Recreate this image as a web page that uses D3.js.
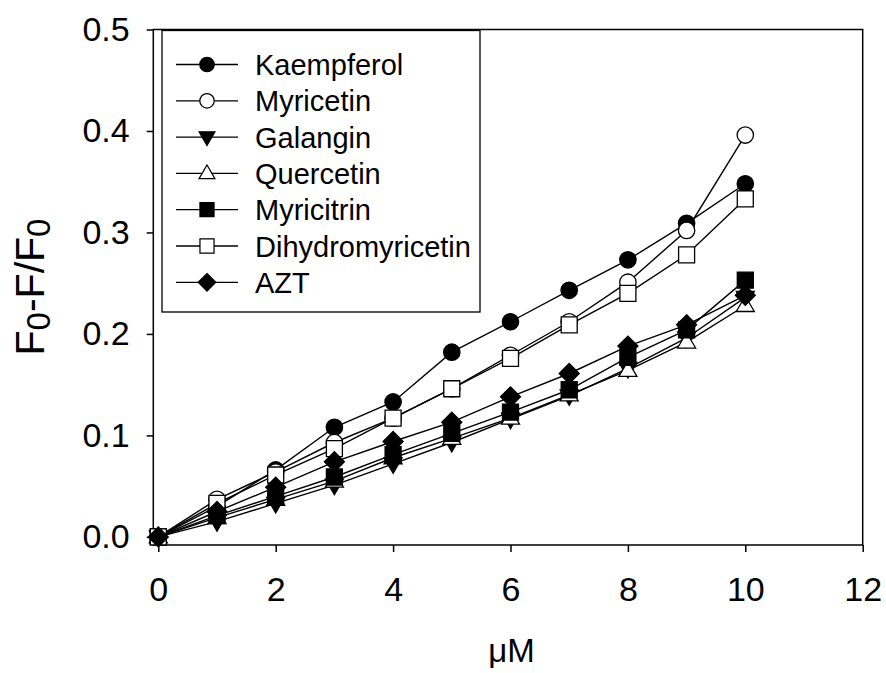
<!DOCTYPE html>
<html>
<head>
<meta charset="utf-8">
<script src="https://cdn.jsdelivr.net/npm/d3@7"></script>
<style>
  html, body { margin: 0; padding: 0; background: #fff; }
  svg { display: block; }
  text { font-family: "Liberation Sans", Arial, sans-serif; fill: #000; }
</style>
</head>
<body>
<svg id="chart" width="886" height="673"></svg>
<script>
// Concentration (µM)
const concentrations = [0, 1, 2, 3, 4, 5, 6, 7, 8, 9, 10];

// Fluorescence quenching (F0-F)/F0 for each compound
const kaempferol       = [0, 0.030, 0.066, 0.108, 0.133, 0.182, 0.212, 0.243, 0.273, 0.309, 0.348];
const myricetin        = [0, 0.037, 0.064, 0.093, 0.117, 0.146, 0.179, 0.212, 0.251, 0.302, 0.396];
const galangin         = [0, 0.015, 0.033, 0.051, 0.072, 0.093, 0.116, 0.139, 0.166, 0.196, 0.236];
const quercetin        = [0, 0.019, 0.037, 0.055, 0.078, 0.097, 0.117, 0.140, 0.164, 0.192, 0.228];
const myricitrin       = [0, 0.021, 0.040, 0.059, 0.081, 0.102, 0.123, 0.145, 0.177, 0.204, 0.253];
const dihydromyricetin = [0, 0.033, 0.061, 0.087, 0.117, 0.146, 0.176, 0.209, 0.240, 0.278, 0.333];
const azt              = [0, 0.025, 0.049, 0.074, 0.094, 0.113, 0.138, 0.161, 0.188, 0.209, 0.238];

const seriesNames = ["Kaempferol", "Myricetin", "Galangin", "Quercetin", "Myricitrin", "Dihydromyricetin", "AZT"];
const seriesValues = [kaempferol, myricetin, galangin, quercetin, myricitrin, dihydromyricetin, azt];

// Axis ticks
const xTicks = [0, 2, 4, 6, 8, 10, 12];
const yTicks = [0.0, 0.1, 0.2, 0.3, 0.4, 0.5];

// Marker shapes
const shapes = {
  circle:   { draw(p) { const r = 8.2; p.moveTo(r, 0); p.arc(0, 0, r, 0, 2 * Math.PI); } },
  square:   { draw(p) { const h = 8; p.rect(-h, -h, 2 * h, 2 * h); } },
  triUp:    { draw(p) { p.moveTo(0, -9.5); p.lineTo(9, 6); p.lineTo(-9, 6); p.closePath(); } },
  triDown:  { draw(p) { p.moveTo(0, 9.5); p.lineTo(9, -6); p.lineTo(-9, -6); p.closePath(); } },
  diamond:  { draw(p) { const h = 10; p.moveTo(0, -h); p.lineTo(h, 0); p.lineTo(0, h); p.lineTo(-h, 0); p.closePath(); } }
};
const markerStyle = [
  { shape: "circle",  fill: "#000" },
  { shape: "circle",  fill: "#fff" },
  { shape: "triDown", fill: "#000" },
  { shape: "triUp",   fill: "#fff" },
  { shape: "square",  fill: "#000" },
  { shape: "square",  fill: "#fff" },
  { shape: "diamond", fill: "#000" }
];

const svg = d3.select("#chart");
const plotLeft = 153.3, plotRight = 862.7, plotTop = 29.5, plotBottom = 545;

const x = d3.scaleLinear().domain([-0.085, 12]).range([plotLeft, plotRight]);
const y = d3.scaleLinear().domain([-0.008, 0.5]).range([plotBottom, plotTop]);

// Plot frame
svg.append("rect")
  .attr("x", plotLeft).attr("y", plotTop)
  .attr("width", plotRight - plotLeft).attr("height", plotBottom - plotTop)
  .attr("fill", "none").attr("stroke", "#000").attr("stroke-width", 1.5);

// Axes
const xAxis = svg.append("g")
  .attr("transform", `translate(0,${plotBottom})`)
  .call(d3.axisBottom(x).tickValues(xTicks).tickSize(7).tickPadding(25).tickFormat(d3.format("d")));
const yAxis = svg.append("g")
  .attr("transform", `translate(${plotLeft},0)`)
  .call(d3.axisLeft(y).tickValues(yTicks).tickSize(6.6).tickPadding(17).tickFormat(d3.format(".1f")));

[xAxis, yAxis].forEach(g => {
  g.select(".domain").remove();
  g.selectAll(".tick line").attr("stroke", "#000").attr("stroke-width", 1.5);
  g.selectAll(".tick text")
    .attr("font-family", "'Liberation Sans', Arial, sans-serif")
    .attr("font-size", 34).attr("fill", "#000");
});

// Axis titles
svg.append("text")
  .attr("x", (x(0) + x(12)) / 2 + 1).attr("y", 662)
  .attr("text-anchor", "middle").attr("font-size", 33)
  .text("\u03bcM");

const yTitle = svg.append("text")
  .attr("transform", "translate(44,287) rotate(-90)")
  .attr("text-anchor", "middle").attr("font-size", 41);
yTitle.append("tspan").text("F");
yTitle.append("tspan").attr("font-size", 33).attr("dy", 6).text("0");
yTitle.append("tspan").attr("dy", -6).text("-F/F");
yTitle.append("tspan").attr("font-size", 33).attr("dy", 6).text("0");

// Series lines and markers
const line = d3.line().x((d, i) => x(concentrations[i])).y(d => y(d));
const plot = svg.append("g");
seriesValues.forEach((vals, s) => {
  const g = plot.append("g");
  g.append("path")
    .attr("d", line(vals))
    .attr("fill", "none").attr("stroke", "#000").attr("stroke-width", 1.4);
  g.selectAll("path.mark").data(vals).join("path")
    .attr("class", "mark")
    .attr("transform", (d, i) => `translate(${x(concentrations[i])},${y(d)})`)
    .attr("d", d3.symbol().type(shapes[markerStyle[s].shape]))
    .attr("fill", markerStyle[s].fill)
    .attr("stroke", "#000").attr("stroke-width", 1.3);
});

// Legend
const legend = svg.append("g");
legend.append("rect")
  .attr("x", 162).attr("y", 30.5).attr("width", 318).attr("height", 281.5)
  .attr("fill", "#fff").attr("stroke", "#000").attr("stroke-width", 1.3);
const rowY = i => 64.5 + i * 36.3;
seriesNames.forEach((name, s) => {
  const cy = rowY(s);
  legend.append("line")
    .attr("x1", 176).attr("x2", 238).attr("y1", cy).attr("y2", cy)
    .attr("stroke", "#000").attr("stroke-width", 1.3);
  legend.append("path")
    .attr("transform", `translate(207,${cy}) scale(0.88)`)
    .attr("d", d3.symbol().type(shapes[markerStyle[s].shape]))
    .attr("fill", markerStyle[s].fill)
    .attr("stroke", "#000").attr("stroke-width", 1.4);
  legend.append("text")
    .attr("x", 255).attr("y", cy + 10.5)
    .attr("font-size", 29)
    .text(name);
});
</script>
</body>
</html>
